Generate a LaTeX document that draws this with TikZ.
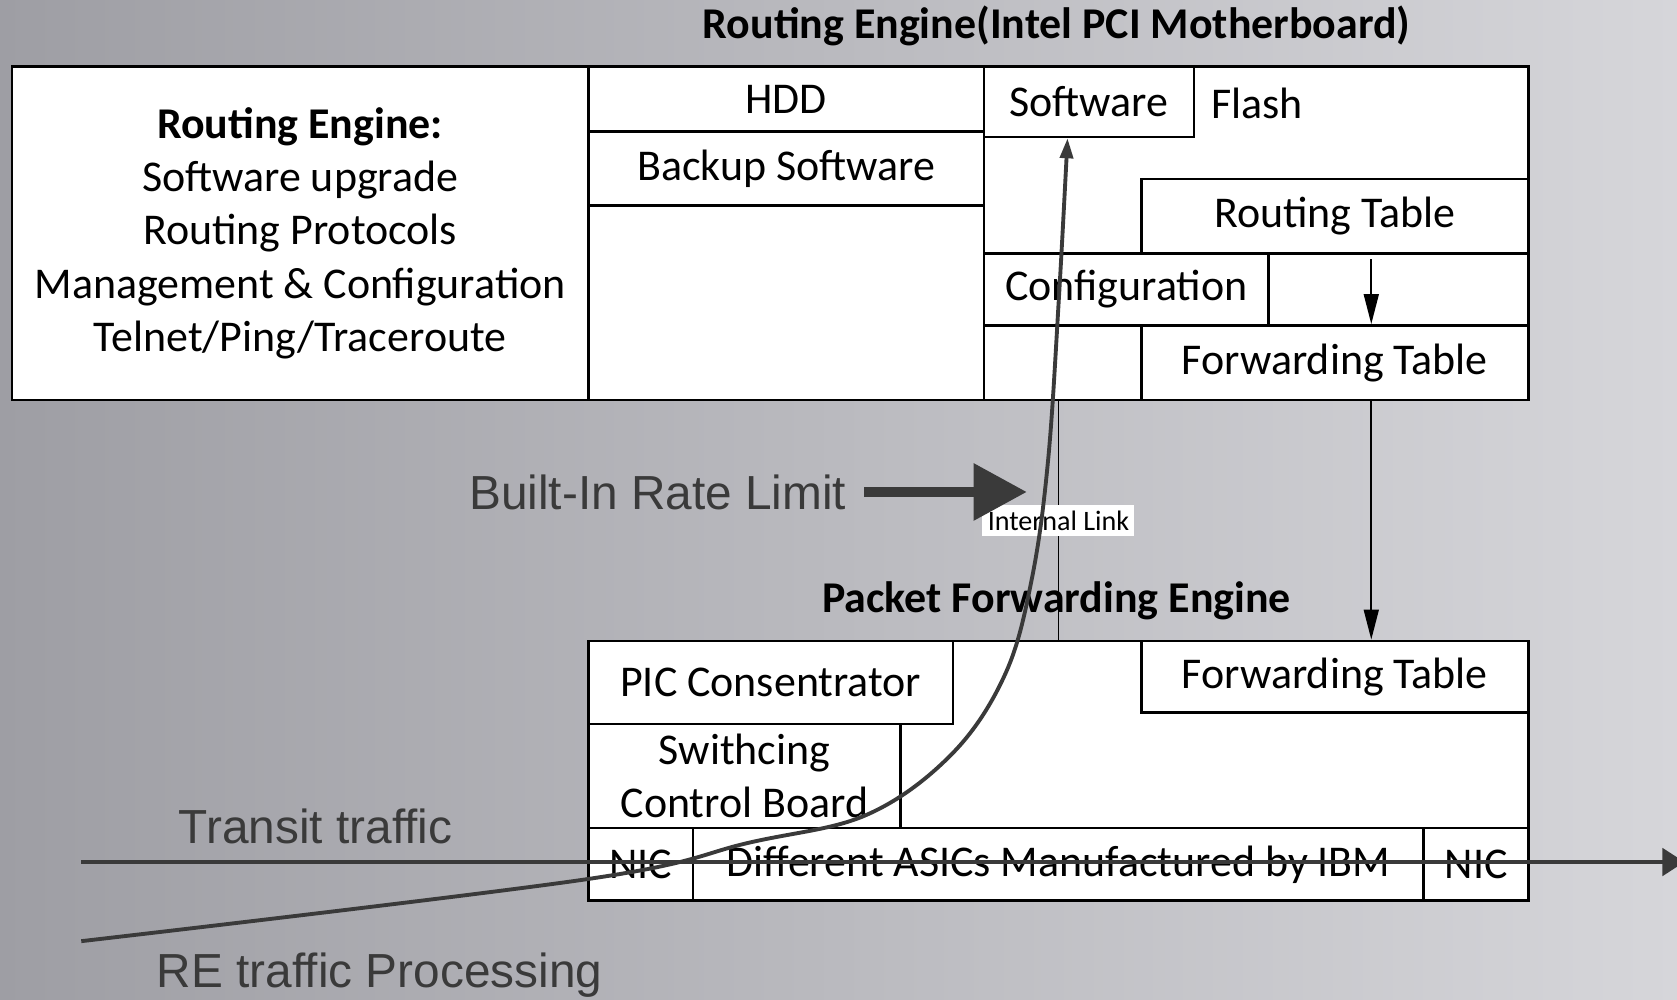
\documentclass[tikz,border=0pt]{standalone}
\usepackage{fontspec}
\setmainfont{Carlito}
\newfontfamily\labelfont{Liberation Sans}
\usetikzlibrary{positioning}
\usetikzlibrary{arrows.meta}
\newdimen\pu \pu=0.010695cm
\newcommand\cellsize{\fontsize{12.5}{15.2}\selectfont}
\definecolor{metalL}{RGB}{158,158,164}
\definecolor{metalM}{RGB}{180,180,185}
\definecolor{metalR}{RGB}{214,214,218}
\definecolor{ink}{RGB}{58,58,58}
\tikzstyle{every cell} = [draw, fill=white, line width=0.7pt, inner sep=0pt, anchor=north west]
\tikzset{cell/.style 2 args={every cell, minimum width=#1*\pu, minimum height=#2*\pu}}
\tikzstyle{title} = [font=\cellsize\bfseries]
\tikzstyle{note} = [font=\labelfont\fontsize{13.6}{16}\selectfont, text=ink]
\tikzstyle{flow} = [draw, line width=0.5pt, -{Triangle[length=0.3cm, width=0.15cm]}]
\tikzstyle{traffic} = [draw=ink, line width=1.3pt]

\begin{document}
\begin{tikzpicture}[x=0.010695cm, y=-0.010695cm, font=\cellsize]
    \shade[left color=metalL, middle color=metalM, right color=metalR] (0,0) rectangle (1568,935);
    \useasboundingbox (0,0) rectangle (1568,935);

    % routing engine
    \node[title] (retitle) at (988,24) {Routing Engine(Intel PCI Motherboard)};
    \node[cell={539}{312}, align=center] (reinfo) at (10,61)
        {\textbf{Routing Engine:}\\Software upgrade\\Routing Protocols\\Management \& Configuration\\Telnet/Ping/Traceroute};
    \node[cell={370}{312}] (disk) at (549,61) {};
    \node[cell={370}{61}] (hdd) at (549,61) {HDD};
    \node[cell={370}{69}] (bak) at (549,122) {Backup Software};
    \node[cell={509}{312}] (mem) at (919,61) {};
    \node[cell={196}{66}] (sw) at (919,61) {Software};
    \node[anchor=west, inner sep=0pt] (flash) at (1132,97) {Flash};
    \node[cell={362}{70}] (rtab) at (1066,166) {Routing Table};
    \node[cell={509}{67}] (cfgrow) at (919,236) {};
    \node[cell={266}{67}] (cfg) at (919,236) {Configuration};
    \node[cell={362}{70}] (fwd) at (1066,303) {Forwarding Table};

    % packet forwarding engine
    \node[title] (pfetitle) at (988,562) {Packet Forwarding Engine};
    \node[cell={879}{243}] (pfe) at (549,598) {};
    \node[cell={341}{78}] (pic) at (549,598) {PIC Consentrator};
    \node[cell={362}{67}] (pfwd) at (1066,598) {Forwarding Table};
    \node[cell={292}{97}, align=center] (scb) at (549,676) {Swithcing\\Control Board};
    \node[cell={879}{68}] (asicrow) at (549,773) {};
    \node[cell={98}{68}] (nicl) at (549,773) {NIC};
    \node[cell={683}{68}] (asic) at (647,773) {Different ASICs Manufactured by IBM};
    \node[cell={98}{68}] (nicr) at (1330,773) {NIC};

    \draw[flow, shorten <=1.2pt] ([xshift=34*\pu]rtab.south) -- ([xshift=34*\pu]fwd.north);
    \draw[flow] ([xshift=34*\pu]fwd.south) -- ([xshift=34*\pu]pfwd.north);
    \draw[line width=0.4pt] (pfe.north |- reinfo.south) -- node[fill=white, inner sep=1.5pt, font=\fontsize{8}{9.6}\selectfont] (link) {Internal Link} (pfe.north);

    % labels and traffic
    \node[note] (rate) at (615,460) {Built-In Rate Limit};
    \node[note] (transit) at (295,773) {Transit traffic};
    \node[note] (reproc) at (355,912) {RE traffic Processing};
    \coordinate (ratetip) at (960,460);
    \draw[draw=ink, line width=2.6pt, -{Triangle[length=0.53cm, width=0.55cm]}] ([xshift=5*\pu]rate.east) -- (ratetip);

    \coordinate (tin) at (76,806);
    \coordinate (tout) at (1575,806);
    \draw[traffic, -{Triangle[length=0.22cm, width=0.27cm]}] (tin) -- (tout);
    \coordinate (rin) at (76,880);
    \coordinate (swin) at ([xshift=-20*\pu]sw.south);
    \draw[traffic, line width=1.1pt, -{Triangle[length=0.2cm, width=0.13cm]}]
        plot[smooth, tension=0.6] coordinates {(rin) (549,822) (700,788) (810,762) (890,705) (940,630) (965,540) (980,430) (990,280) (swin)};
\end{tikzpicture}
\end{document}
